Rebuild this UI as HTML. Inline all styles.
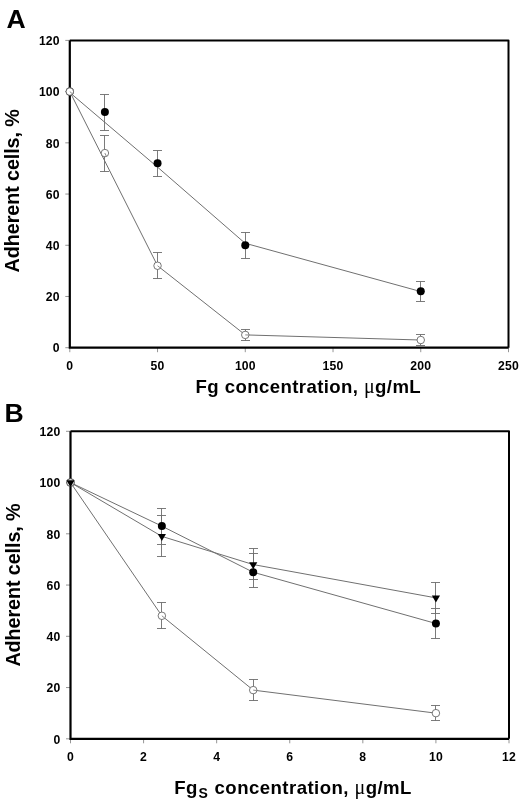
<!DOCTYPE html>
<html><head><meta charset="utf-8"><title>Figure</title>
<style>
html,body{margin:0;padding:0;background:#fff;}
svg{display:block;filter:grayscale(1)}
text{font-family:"Liberation Sans",sans-serif;font-weight:bold;fill:#000}
.tk{font-size:12.2px;letter-spacing:0.15px}
.ax{font-size:18.6px;letter-spacing:0.4px}
.yl{font-size:19.8px;letter-spacing:-0.1px}
.mu{font-family:"Liberation Serif",serif;font-weight:normal;font-size:20px}
.sub{font-size:14px}
.pl{font-size:26.6px}
</style></head>
<body>
<svg width="520" height="804" viewBox="0 0 520 804">
<rect width="520" height="804" fill="#fff"/>
<text x="6.4" y="27.5" class="pl">A</text>
<text x="4.6" y="421.5" class="pl">B</text>
<text class="yl" transform="translate(19.2,272.4) rotate(-90)">Adherent cells, %</text>
<text class="yl" transform="translate(19.6,666.6) rotate(-90)">Adherent cells, %</text>
<line x1="65.30" y1="347.70" x2="69.80" y2="347.70" stroke="#969696" stroke-width="1"/>
<text x="59.70" y="352.40" text-anchor="end" class="tk">0</text>
<line x1="65.30" y1="296.48" x2="69.80" y2="296.48" stroke="#969696" stroke-width="1"/>
<text x="59.70" y="301.18" text-anchor="end" class="tk">20</text>
<line x1="65.30" y1="245.27" x2="69.80" y2="245.27" stroke="#969696" stroke-width="1"/>
<text x="59.70" y="249.97" text-anchor="end" class="tk">40</text>
<line x1="65.30" y1="194.05" x2="69.80" y2="194.05" stroke="#969696" stroke-width="1"/>
<text x="59.70" y="198.75" text-anchor="end" class="tk">60</text>
<line x1="65.30" y1="142.83" x2="69.80" y2="142.83" stroke="#969696" stroke-width="1"/>
<text x="59.70" y="147.53" text-anchor="end" class="tk">80</text>
<line x1="65.30" y1="91.62" x2="69.80" y2="91.62" stroke="#969696" stroke-width="1"/>
<text x="59.70" y="96.32" text-anchor="end" class="tk">100</text>
<line x1="65.30" y1="40.40" x2="69.80" y2="40.40" stroke="#969696" stroke-width="1"/>
<text x="59.70" y="45.10" text-anchor="end" class="tk">120</text>
<line x1="69.80" y1="347.70" x2="69.80" y2="352.20" stroke="#969696" stroke-width="1"/>
<text x="69.80" y="369.70" text-anchor="middle" class="tk">0</text>
<line x1="157.54" y1="347.70" x2="157.54" y2="352.20" stroke="#969696" stroke-width="1"/>
<text x="157.54" y="369.70" text-anchor="middle" class="tk">50</text>
<line x1="245.28" y1="347.70" x2="245.28" y2="352.20" stroke="#969696" stroke-width="1"/>
<text x="245.28" y="369.70" text-anchor="middle" class="tk">100</text>
<line x1="333.02" y1="347.70" x2="333.02" y2="352.20" stroke="#969696" stroke-width="1"/>
<text x="333.02" y="369.70" text-anchor="middle" class="tk">150</text>
<line x1="420.76" y1="347.70" x2="420.76" y2="352.20" stroke="#969696" stroke-width="1"/>
<text x="420.76" y="369.70" text-anchor="middle" class="tk">200</text>
<line x1="508.50" y1="347.70" x2="508.50" y2="352.20" stroke="#969696" stroke-width="1"/>
<text x="508.50" y="369.70" text-anchor="middle" class="tk">250</text>
<polyline points="69.6,92.4 157.4,167 245,243.2 420.6,291.5" fill="none" stroke="#707070" stroke-width="1"/>
<polyline points="69.80,91.62 157.54,265.75 245.28,334.90 420.76,340.02" fill="none" stroke="#707070" stroke-width="1"/>
<path d="M69.80,40.40 H508.50 V347.70" fill="none" stroke="#000" stroke-width="2" stroke-linejoin="round"/>
<path d="M69.80,40.40 V347.70 H508.50" fill="none" stroke="#000" stroke-width="2.2" stroke-linejoin="miter"/>
<path d="M104.50,94.50 V130.50 M100.00,94.50 h9 M100.00,130.50 h9" fill="none" stroke="#6c6c6c" stroke-width="0.9"/>
<path d="M157.50,150.50 V176.50 M153.00,150.50 h9 M153.00,176.50 h9" fill="none" stroke="#6c6c6c" stroke-width="0.9"/>
<path d="M245.50,232.50 V258.50 M241.00,232.50 h9 M241.00,258.50 h9" fill="none" stroke="#6c6c6c" stroke-width="0.9"/>
<path d="M420.50,281.50 V301.50 M416.00,281.50 h9 M416.00,301.50 h9" fill="none" stroke="#6c6c6c" stroke-width="0.9"/>
<path d="M104.50,135.50 V171.50 M100.00,135.50 h9 M100.00,171.50 h9" fill="none" stroke="#6c6c6c" stroke-width="0.9"/>
<path d="M157.50,252.50 V278.50 M153.00,252.50 h9 M153.00,278.50 h9" fill="none" stroke="#6c6c6c" stroke-width="0.9"/>
<path d="M245.50,329.50 V340.50 M241.00,329.50 h9 M241.00,340.50 h9" fill="none" stroke="#6c6c6c" stroke-width="0.9"/>
<path d="M420.50,334.50 V345.50 M416.00,334.50 h9 M416.00,345.50 h9" fill="none" stroke="#6c6c6c" stroke-width="0.9"/>
<circle cx="69.80" cy="91.62" r="4" fill="#000"/>
<circle cx="104.90" cy="112.10" r="4" fill="#000"/>
<circle cx="157.54" cy="163.32" r="4" fill="#000"/>
<circle cx="245.28" cy="245.27" r="4" fill="#000"/>
<circle cx="420.76" cy="291.36" r="4" fill="#000"/>
<circle cx="69.80" cy="91.62" r="3.75" fill="#fff" stroke="#606060" stroke-width="0.85"/>
<line x1="69.80" y1="91.62" x2="72.47" y2="93.88" stroke="#808080" stroke-width="0.9"/>
<circle cx="104.90" cy="153.08" r="3.75" fill="#fff" stroke="#606060" stroke-width="0.85"/>
<line x1="104.90" y1="153.08" x2="106.38" y2="156.25" stroke="#808080" stroke-width="0.9"/>
<circle cx="157.54" cy="265.75" r="3.75" fill="#fff" stroke="#606060" stroke-width="0.85"/>
<line x1="157.54" y1="265.75" x2="160.29" y2="267.92" stroke="#808080" stroke-width="0.9"/>
<circle cx="245.28" cy="334.90" r="3.75" fill="#fff" stroke="#606060" stroke-width="0.85"/>
<line x1="245.28" y1="334.90" x2="248.78" y2="335.00" stroke="#808080" stroke-width="0.9"/>
<circle cx="420.76" cy="340.02" r="3.75" fill="#fff" stroke="#606060" stroke-width="0.85"/>
<text x="195.6" y="393.2" class="ax">Fg concentration, <tspan class="mu">μ</tspan>g/mL</text>
<line x1="66.00" y1="738.80" x2="70.50" y2="738.80" stroke="#969696" stroke-width="1"/>
<text x="60.40" y="743.50" text-anchor="end" class="tk">0</text>
<line x1="66.00" y1="687.55" x2="70.50" y2="687.55" stroke="#969696" stroke-width="1"/>
<text x="60.40" y="692.25" text-anchor="end" class="tk">20</text>
<line x1="66.00" y1="636.30" x2="70.50" y2="636.30" stroke="#969696" stroke-width="1"/>
<text x="60.40" y="641.00" text-anchor="end" class="tk">40</text>
<line x1="66.00" y1="585.05" x2="70.50" y2="585.05" stroke="#969696" stroke-width="1"/>
<text x="60.40" y="589.75" text-anchor="end" class="tk">60</text>
<line x1="66.00" y1="533.80" x2="70.50" y2="533.80" stroke="#969696" stroke-width="1"/>
<text x="60.40" y="538.50" text-anchor="end" class="tk">80</text>
<line x1="66.00" y1="482.55" x2="70.50" y2="482.55" stroke="#969696" stroke-width="1"/>
<text x="60.40" y="487.25" text-anchor="end" class="tk">100</text>
<line x1="66.00" y1="431.30" x2="70.50" y2="431.30" stroke="#969696" stroke-width="1"/>
<text x="60.40" y="436.00" text-anchor="end" class="tk">120</text>
<line x1="70.50" y1="738.80" x2="70.50" y2="743.30" stroke="#969696" stroke-width="1"/>
<text x="70.50" y="760.80" text-anchor="middle" class="tk">0</text>
<line x1="143.58" y1="738.80" x2="143.58" y2="743.30" stroke="#969696" stroke-width="1"/>
<text x="143.58" y="760.80" text-anchor="middle" class="tk">2</text>
<line x1="216.67" y1="738.80" x2="216.67" y2="743.30" stroke="#969696" stroke-width="1"/>
<text x="216.67" y="760.80" text-anchor="middle" class="tk">4</text>
<line x1="289.75" y1="738.80" x2="289.75" y2="743.30" stroke="#969696" stroke-width="1"/>
<text x="289.75" y="760.80" text-anchor="middle" class="tk">6</text>
<line x1="362.83" y1="738.80" x2="362.83" y2="743.30" stroke="#969696" stroke-width="1"/>
<text x="362.83" y="760.80" text-anchor="middle" class="tk">8</text>
<line x1="435.92" y1="738.80" x2="435.92" y2="743.30" stroke="#969696" stroke-width="1"/>
<text x="435.92" y="760.80" text-anchor="middle" class="tk">10</text>
<line x1="509.00" y1="738.80" x2="509.00" y2="743.30" stroke="#969696" stroke-width="1"/>
<text x="509.00" y="760.80" text-anchor="middle" class="tk">12</text>
<polyline points="70.50,482.55 161.85,526.11 253.21,572.24 435.92,623.49" fill="none" stroke="#707070" stroke-width="1"/>
<polyline points="70.50,482.55 161.85,615.80 253.21,690.11 435.92,713.17" fill="none" stroke="#707070" stroke-width="1"/>
<polyline points="70.50,482.55 161.85,536.36 253.21,564.55 435.92,597.86" fill="none" stroke="#707070" stroke-width="1"/>
<path d="M70.50,431.30 H509.00 V738.80" fill="none" stroke="#000" stroke-width="2" stroke-linejoin="round"/>
<path d="M70.50,431.30 V738.80 H509.00" fill="none" stroke="#000" stroke-width="2.2" stroke-linejoin="miter"/>
<path d="M161.50,508.50 V544.50 M157.00,508.50 h9 M157.00,544.50 h9" fill="none" stroke="#6c6c6c" stroke-width="0.9"/>
<path d="M253.50,553.50 V587.50 M249.00,553.50 h9 M249.00,587.50 h9" fill="none" stroke="#6c6c6c" stroke-width="0.9"/>
<path d="M435.50,608.50 V638.50 M431.00,608.50 h9 M431.00,638.50 h9" fill="none" stroke="#6c6c6c" stroke-width="0.9"/>
<path d="M161.50,602.50 V628.50 M157.00,602.50 h9 M157.00,628.50 h9" fill="none" stroke="#6c6c6c" stroke-width="0.9"/>
<path d="M253.50,679.50 V700.50 M249.00,679.50 h9 M249.00,700.50 h9" fill="none" stroke="#6c6c6c" stroke-width="0.9"/>
<path d="M435.50,705.50 V720.50 M431.00,705.50 h9 M431.00,720.50 h9" fill="none" stroke="#6c6c6c" stroke-width="0.9"/>
<path d="M161.50,515.50 V556.50 M157.00,515.50 h9 M157.00,556.50 h9" fill="none" stroke="#6c6c6c" stroke-width="0.9"/>
<path d="M253.50,548.50 V579.50 M249.00,548.50 h9 M249.00,579.50 h9" fill="none" stroke="#6c6c6c" stroke-width="0.9"/>
<path d="M435.50,582.50 V613.50 M431.00,582.50 h9 M431.00,613.50 h9" fill="none" stroke="#6c6c6c" stroke-width="0.9"/>
<circle cx="70.50" cy="482.55" r="4" fill="#000"/>
<circle cx="161.85" cy="526.11" r="4" fill="#000"/>
<circle cx="253.21" cy="572.24" r="4" fill="#000"/>
<circle cx="435.92" cy="623.49" r="4" fill="#000"/>
<circle cx="70.50" cy="482.55" r="3.75" fill="#fff" stroke="#606060" stroke-width="0.85"/>
<line x1="70.50" y1="482.55" x2="72.48" y2="485.44" stroke="#808080" stroke-width="0.9"/>
<circle cx="161.85" cy="615.80" r="3.75" fill="#fff" stroke="#606060" stroke-width="0.85"/>
<line x1="161.85" y1="615.80" x2="164.57" y2="618.01" stroke="#808080" stroke-width="0.9"/>
<circle cx="253.21" cy="690.11" r="3.75" fill="#fff" stroke="#606060" stroke-width="0.85"/>
<line x1="253.21" y1="690.11" x2="256.68" y2="690.55" stroke="#808080" stroke-width="0.9"/>
<circle cx="435.92" cy="713.17" r="3.75" fill="#fff" stroke="#606060" stroke-width="0.85"/>
<path d="M66.40,480.15 h8.2 l-4.1,7 z" fill="#000"/>
<path d="M157.75,533.96 h8.2 l-4.1,7 z" fill="#000"/>
<path d="M249.11,562.15 h8.2 l-4.1,7 z" fill="#000"/>
<path d="M431.82,595.46 h8.2 l-4.1,7 z" fill="#000"/>
<text x="174.3" y="794.3" class="ax" style="letter-spacing:0.44px">Fg<tspan class="sub" dy="4" dx="0.7">S</tspan><tspan dy="-4" dx="0.6"> concentration, </tspan><tspan class="mu">μ</tspan>g/mL</text>
</svg>
</body></html>
